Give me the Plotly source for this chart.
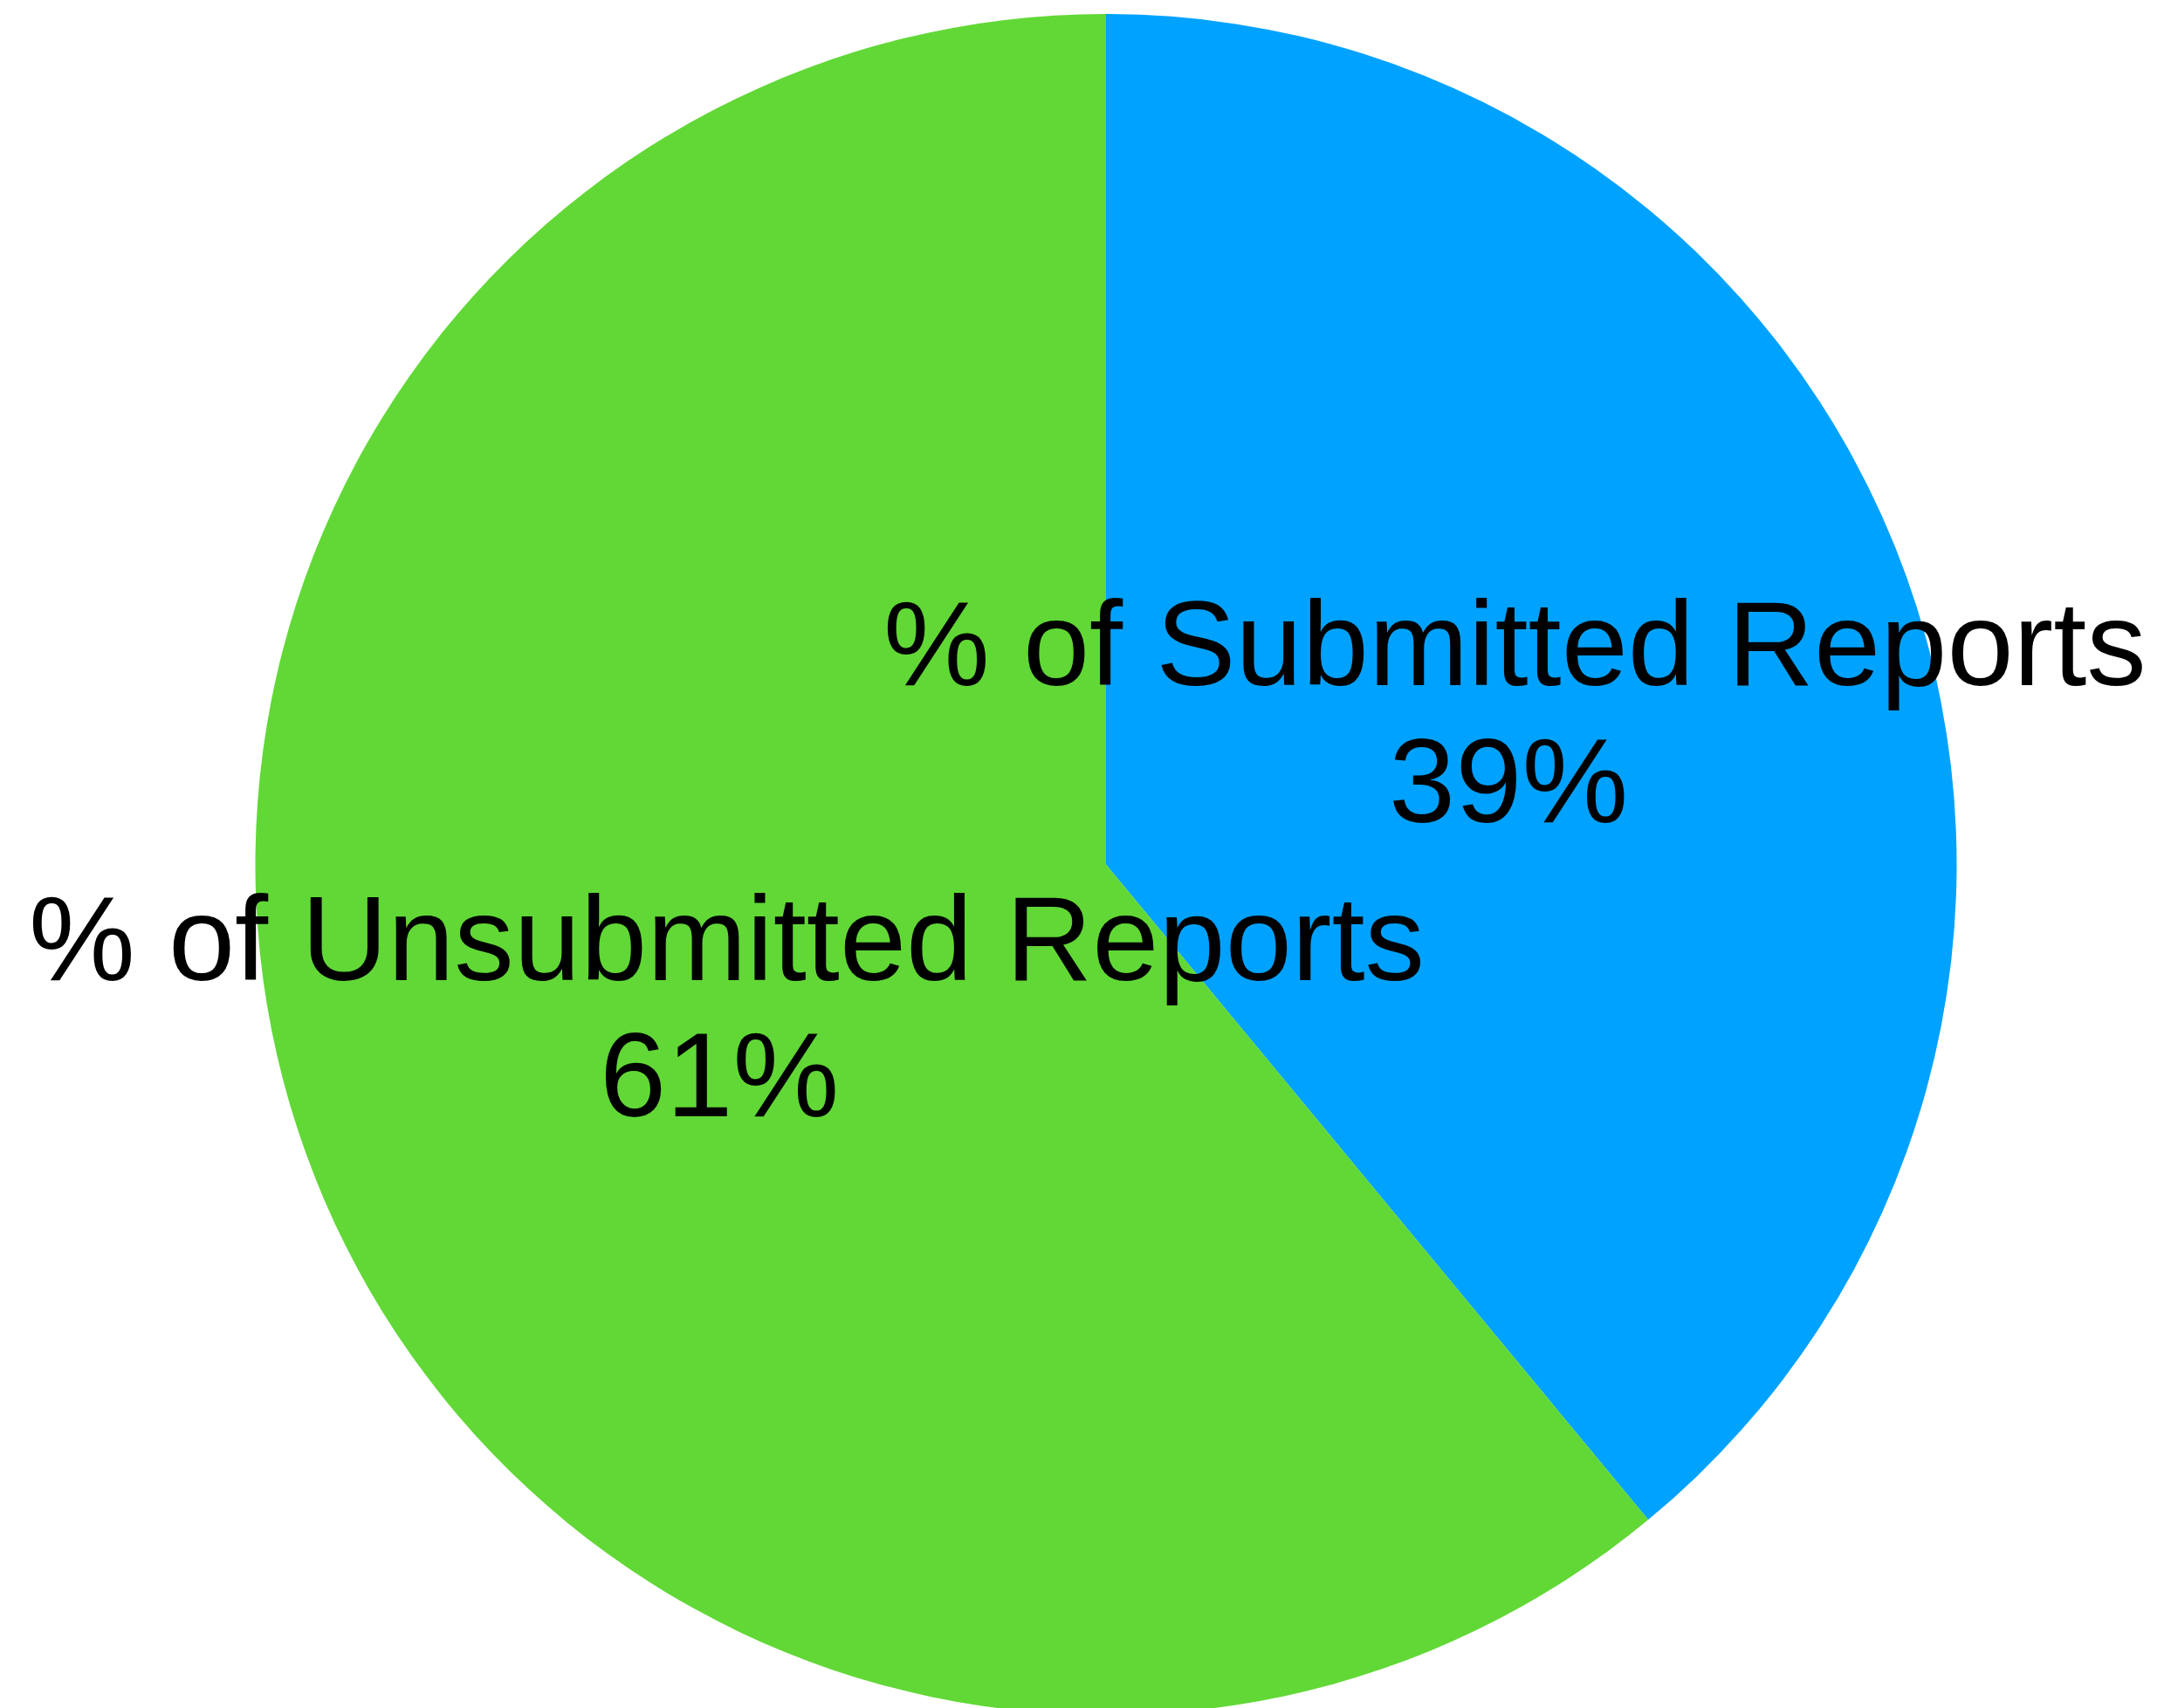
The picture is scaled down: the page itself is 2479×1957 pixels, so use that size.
import plotly.graph_objects as go

labels = ["% of Submitted Reports", "% of Unsubmitted Reports"]
values = [39, 61]
colors = ["#00A2FF", "#61D836"]

W, H = 2479, 1957

fig = go.Figure(
    go.Pie(
        labels=labels,
        values=values,
        sort=False,
        direction="clockwise",
        rotation=0,
        marker=dict(colors=colors, line=dict(width=0)),
        textinfo="none",
        hoverinfo="label+percent",
        showlegend=False,
        domain=dict(x=[284 / W, 2234 / W], y=[0, 1 - 8 / H]),
    )
)

# label placement in pixels (centre x, centre y of each line)
label_pos = [
    ((1727, 729), (1720, 886)),
    ((824, 1067), (816, 1223)),
]

font = dict(family="Liberation Sans, Arial, Helvetica, sans-serif", size=137, color="#000000")
for name, val, (p1, p2) in zip(labels, values, label_pos):
    for txt, (px_, py_) in ((name, p1), (f"{val}%", p2)):
        fig.add_annotation(
            text=txt,
            x=px_ / W,
            y=1 - py_ / H,
            xref="paper",
            yref="paper",
            xanchor="center",
            yanchor="middle",
            showarrow=False,
            font=font,
        )

fig.update_layout(
    width=W,
    height=H,
    margin=dict(l=0, r=0, t=0, b=0),
    paper_bgcolor="white",
    plot_bgcolor="white",
)

fig.write_html("out.html")
